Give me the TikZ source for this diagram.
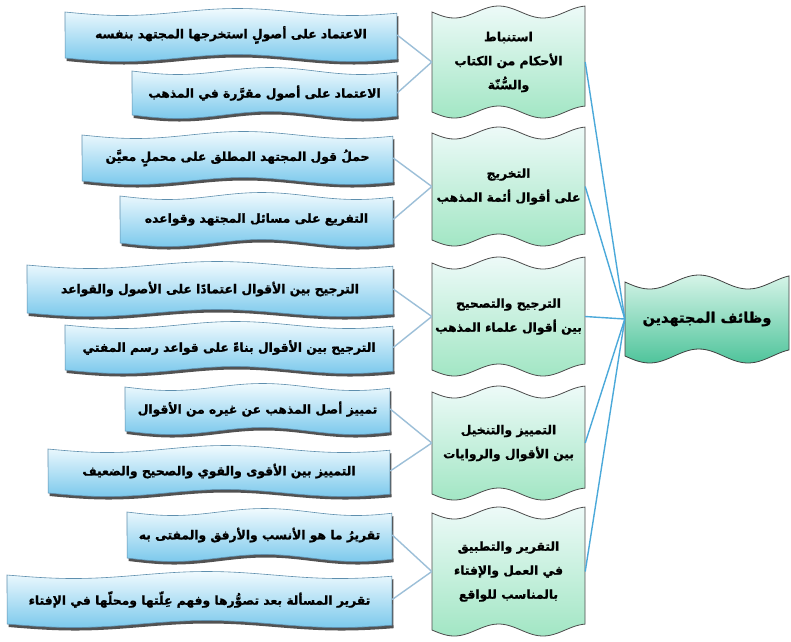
\documentclass[tikz,border=0pt]{standalone}
\usepackage{fontspec}
\usepackage{xcolor}
\usetikzlibrary{shadows}

\newfontfamily\arabicfont[Script=Arabic, BoldFeatures={FakeBold=1.2}]{DejaVu Sans}
\TeXXeTstate=1
\newcommand\ar[1]{\beginR #1\endR}

\definecolor{leaftop}{HTML}{F0FAFE}
\definecolor{leafbot}{HTML}{7CC9EC}
\definecolor{leafline}{HTML}{5E8FAE}
\definecolor{stagetop}{HTML}{EDFAF8}
\definecolor{stagebot}{HTML}{A2E6C4}
\definecolor{roottop}{HTML}{D6F4E8}
\definecolor{rootbot}{HTML}{4FC49B}
\definecolor{linkblue}{HTML}{9CBFD8}
\definecolor{rootblue}{HTML}{4BA9DA}

\tikzset{
  wave amp/.store in=\wamp, wave len/.store in=\wlen,
  wave amp=4, wave len=540,
  leafbox/.style={top color=leaftop, bottom color=leafbot, draw=leafline,
    line width=0.6pt, wave amp=3.5, wave len=520,
    drop shadow={shadow xshift=1.5pt, shadow yshift=-3pt, fill=black!75, opacity=0.9}},
  stagebox/.style={top color=stagetop, bottom color=stagebot, draw=black!70,
    line width=0.8pt, wave amp=6, wave len=620},
  rootbox/.style={top color=roottop, bottom color=rootbot, draw=black!75,
    line width=0.8pt, wave amp=7, wave len=600},
  leaftext/.style={inner sep=0pt, font=\arabicfont\bfseries\fontsize{12.3}{15}\selectfont},
  stagetext/.style={inner sep=0pt, align=center,
    font=\arabicfont\bfseries\fontsize{12.3}{24}\selectfont},
  roottext/.style={inner sep=0pt, font=\arabicfont\bfseries\fontsize{14.5}{17}\selectfont},
  link/.style={draw=linkblue, line width=1.4pt},
  rootlink/.style={draw=rootblue, line width=1.4pt}
}

% wavy flag: name, box style, text style, x1, y1, x2, y2, text
\newcommand\flag[8]{%
  \path[#2] plot[variable=\t, domain=0:1, samples=50, smooth]
      ({#4+\t*(#6-#4)}, {#5+\wamp*sin(\t*\wlen)})
    -- plot[variable=\t, domain=1:0, samples=50, smooth]
      ({#4+\t*(#6-#4)}, {#7+\wamp*sin(\t*\wlen)}) -- cycle;
  \node[#3, minimum width={(#6-#4)*1pt}, minimum height={(#7-#5)*1pt}]
    (#1) at ({(#4+#6)/2},{(#5+#7)/2}) {#8};
}

\begin{document}
\begin{tikzpicture}[x=1pt, y=-1pt]
    % Canvas
    \fill[white] (0,0) rectangle (791,641);
    \useasboundingbox (0,0) rectangle (791,641);

    % Root
    \flag{root}{rootbox}{roottext}{625}{282}{789}{356}{\ar{وظائف المجتهدين}}

    % Stages
    \flag{stI}{stagebox}{stagetext}{432}{12}{585}{112}%
      {\ar{استنباط}\\\ar{الأحكام من الكتاب}\\\ar{والسُّنّة}}
    \flag{stII}{stagebox}{stagetext}{432}{133}{585}{240}%
      {\ar{التخريج}\\\ar{على أقوال أئمة المذهب}}
    \flag{stIII}{stagebox}{stagetext}{432}{263}{585}{370}%
      {\ar{الترجيح والتصحيح}\\\ar{بين أقوال علماء المذهب}}
    \flag{stIV}{stagebox}{stagetext}{432}{392}{585}{494}%
      {\ar{التمييز والتنخيل}\\\ar{بين الأقوال والروايات}}
    \flag{stV}{stagebox}{stagetext}{432}{513}{585}{630}%
      {\ar{التقرير والتطبيق}\\\ar{في العمل والإفتاء}\\\ar{بالمناسب للواقع}}

    % Leaves
    \flag{lfIa}{leafbox}{leaftext}{65}{12}{397}{58}{\ar{الاعتماد على أصولٍ استخرجها المجتهد بنفسه}}
    \flag{lfIb}{leafbox}{leaftext}{132}{71}{397}{115}{\ar{الاعتماد على أصول مقرَّرة في المذهب}}
    \flag{lfIIa}{leafbox}{leaftext}{82}{135}{393}{181}{\ar{حملُ قول المجتهد المطلق على محملٍ معيَّن}}
    \flag{lfIIb}{leafbox}{leaftext}{120}{196}{393}{243}{\ar{التفريع على مسائل المجتهد وقواعده}}
    \flag{lfIIIa}{leafbox}{leaftext}{27}{265}{393}{313}{\ar{الترجيح بين الأقوال اعتمادًا على الأصول والقواعد}}
    \flag{lfIIIb}{leafbox}{leaftext}{65}{325}{393}{370}{\ar{الترجيح بين الأقوال بناءً على قواعد رسم المفتي}}
    \flag{lfIVa}{leafbox}{leaftext}{125}{387}{390}{431}{\ar{تمييز أصل المذهب عن غيره من الأقوال}}
    \flag{lfIVb}{leafbox}{leaftext}{48}{449}{390}{493}{\ar{التمييز بين الأقوى والقوي والصحيح والضعيف}}
    \flag{lfVa}{leafbox}{leaftext}{127}{512}{392}{558}{\ar{تقريرُ ما هو الأنسب والأرفق والمفتى به}}
    \flag{lfVb}{leafbox}{leaftext}{7}{575}{392}{624}{\ar{تقرير المسألة بعد تصوُّرها وفهم عِلّتها ومحلّها في الإفتاء}}

    % Links leaf -> stage
    \foreach \s/\a/\b in {stI/lfIa/lfIb, stII/lfIIa/lfIIb, stIII/lfIIIa/lfIIIb,
                          stIV/lfIVa/lfIVb, stV/lfVa/lfVb} {
      \draw[link] (\a.east) -- (\s.west);
      \draw[link] (\b.east) -- (\s.west);
    }

    % Links stage -> root
    \foreach \s in {stI, stII, stIII, stIV, stV}
      \draw[rootlink] (\s.east) -- (root.west);
\end{tikzpicture}
\end{document}
